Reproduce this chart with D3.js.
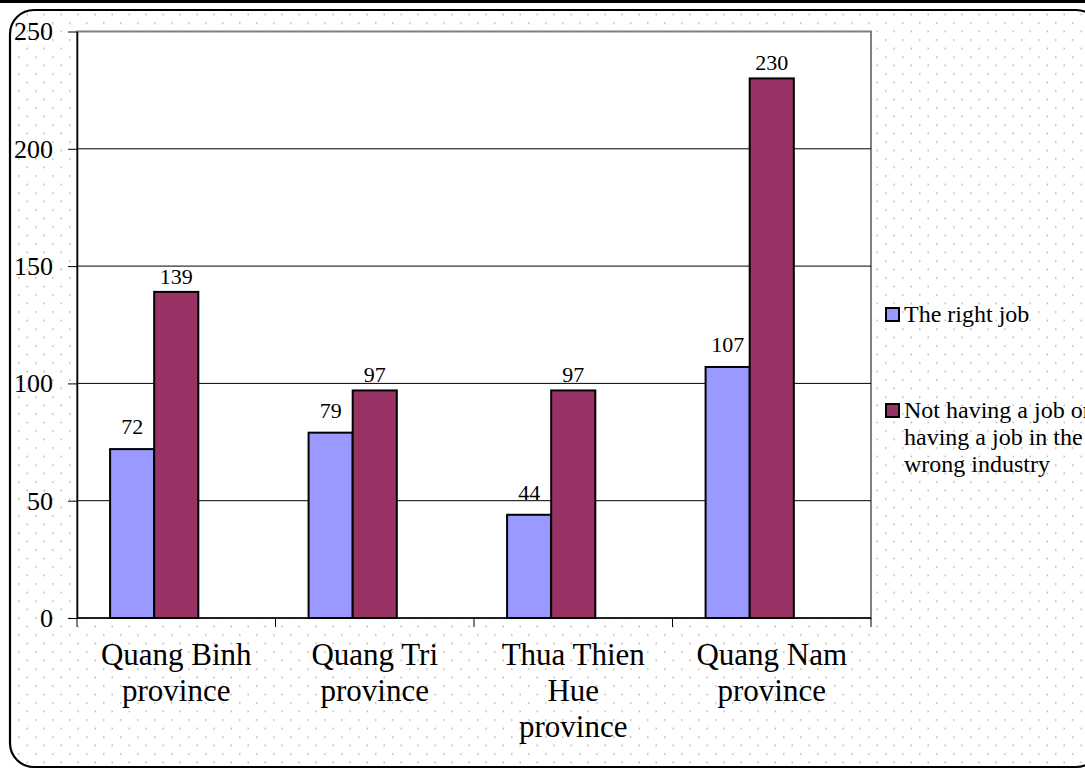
<!DOCTYPE html>
<html>
<head>
<meta charset="utf-8">
<script src="https://cdn.jsdelivr.net/npm/d3@7"></script>
<style>
  html, body { margin: 0; padding: 0; background: #fff; overflow: hidden; }
  svg { display: block; }
</style>
</head>
<body>
<svg id="chart" width="1085" height="769"></svg>
<script>
// Survey results by province
const categories = ["Quang Binh province", "Quang Tri province", "Thua Thien Hue province", "Quang Nam province"];
const seriesNames = ["The right job", "Not having a job or having a job in the wrong industry"];
const rightJob = [72, 79, 44, 107];
const wrongJob = [139, 97, 97, 230];
const yTicks = [0, 50, 100, 150, 200, 250];
const seriesColors = ["#9999FF", "#993366"];

const seriesValues = [rightJob, wrongJob];
const FONT = "'Liberation Serif', 'Times New Roman', serif";

const svg = d3.select("#chart");
const W = 1085, H = 769;

// dotted background fill
const defs = svg.append("defs");
const pat = defs.append("pattern")
  .attr("id", "dots")
  .attr("patternUnits", "userSpaceOnUse")
  .attr("width", 17).attr("height", 17)
  .attr("x", 1).attr("y", 5.3);
pat.append("rect").attr("x", 0).attr("y", 0).attr("width", 1.5).attr("height", 1.5).attr("fill", "#b4b4b4");
pat.append("rect").attr("x", 8.5).attr("y", 8.5).attr("width", 1.5).attr("height", 1.5).attr("fill", "#b4b4b4");

// top rule
svg.append("rect").attr("x", 0).attr("y", 0).attr("width", W).attr("height", 3).attr("fill", "#000");

// chart frame (right edge runs past the page)
svg.append("rect")
  .attr("x", 10).attr("y", 10)
  .attr("width", 1090).attr("height", 757)
  .attr("rx", 24).attr("ry", 24)
  .attr("fill", "url(#dots)")
  .attr("stroke", "#000").attr("stroke-width", 2.2);

// plot area
const plot = { left: 77, right: 871, top: 31.5, bottom: 618 };

const x = d3.scaleBand()
  .domain(categories)
  .range([plot.left, plot.right])
  .paddingInner(0).paddingOuter(0);

// three slots per category (gap width 150%), series occupy the first two
const slot = d3.scaleBand()
  .domain([0, 1, 2])
  .range([0, x.bandwidth()])
  .paddingInner(0).paddingOuter(0.75);

const y = d3.scaleLinear().domain([0, 250]).range([plot.bottom, plot.top]);

svg.append("rect")
  .attr("x", plot.left).attr("y", plot.top)
  .attr("width", plot.right - plot.left).attr("height", plot.bottom - plot.top)
  .attr("fill", "#fff")
  .attr("stroke", "#808080").attr("stroke-width", 2);

// gridlines
svg.append("g").selectAll("line")
  .data(yTicks.filter(d => d > 0 && d < 250))
  .join("line")
  .attr("x1", plot.left).attr("x2", plot.right)
  .attr("y1", d => y(d)).attr("y2", d => y(d))
  .attr("stroke", "#000").attr("stroke-width", 1);

// bars
const barData = [];
categories.forEach((c, ci) => {
  seriesValues.forEach((vals, si) => {
    barData.push({ cat: c, si, value: vals[ci] });
  });
});

svg.append("g").selectAll("rect")
  .data(barData)
  .join("rect")
  .attr("x", d => x(d.cat) + slot(d.si))
  .attr("y", d => y(d.value))
  .attr("width", slot.bandwidth())
  .attr("height", d => y(0) - y(d.value))
  .attr("fill", d => seriesColors[d.si])
  .attr("stroke", "#000").attr("stroke-width", 2);

// value labels
const labelGap = [15, 8];
svg.append("g").selectAll("text")
  .data(barData)
  .join("text")
  .attr("x", d => x(d.cat) + slot(d.si) + slot.bandwidth() / 2)
  .attr("y", d => y(d.value) - labelGap[d.si])
  .attr("text-anchor", "middle")
  .attr("font-family", FONT).attr("font-size", 22)
  .attr("fill", "#000")
  .text(d => d.value);

// y axis
const yAxis = svg.append("g")
  .attr("transform", `translate(${plot.left},0)`)
  .call(d3.axisLeft(y).tickValues(yTicks).tickSize(9).tickSizeOuter(0).tickPadding(15).tickFormat(d3.format("d")));
yAxis.select(".domain").attr("stroke", "#000").attr("stroke-width", 1.5);
yAxis.selectAll(".tick line").attr("stroke", "#000").attr("stroke-width", 1);
yAxis.selectAll(".tick text")
  .attr("font-family", FONT).attr("font-size", 26).attr("fill", "#000");

// x axis
svg.append("line")
  .attr("x1", plot.left).attr("x2", plot.right)
  .attr("y1", plot.bottom).attr("y2", plot.bottom)
  .attr("stroke", "#000").attr("stroke-width", 1.5);

const boundaries = categories.map(c => x(c)).concat([x.range()[1]]);
svg.append("g").selectAll("line")
  .data(boundaries)
  .join("line")
  .attr("x1", d => d).attr("x2", d => d)
  .attr("y1", plot.bottom).attr("y2", plot.bottom + 9)
  .attr("stroke", "#000").attr("stroke-width", 1);

// word wrapping for multi-line labels
function wrapLines(text, maxWidth, fontSize) {
  const probe = svg.append("text")
    .attr("font-family", FONT).attr("font-size", fontSize)
    .attr("visibility", "hidden");
  const words = text.split(" ");
  const lines = [];
  let line = "";
  words.forEach(w => {
    const test = line ? line + " " + w : w;
    probe.text(test);
    if (line && probe.node().getComputedTextLength() > maxWidth) {
      lines.push(line);
      line = w;
    } else {
      line = test;
    }
  });
  if (line) lines.push(line);
  probe.remove();
  return lines;
}

const catLabels = svg.append("g").selectAll("text")
  .data(categories)
  .join("text")
  .attr("text-anchor", "middle")
  .attr("font-family", FONT).attr("font-size", 31)
  .attr("fill", "#000");
catLabels.each(function (d) {
  const cx = x(d) + x.bandwidth() / 2;
  const lines = wrapLines(d, 160, 31);
  d3.select(this).selectAll("tspan")
    .data(lines)
    .join("tspan")
    .attr("x", cx)
    .attr("y", (l, i) => 665 + i * 35.8)
    .text(l => l);
});

// legend
const legendRows = [308, 404];
const legend = svg.append("g");
seriesNames.forEach((name, i) => {
  legend.append("rect")
    .attr("x", 886).attr("y", legendRows[i])
    .attr("width", 13).attr("height", 13)
    .attr("fill", seriesColors[i])
    .attr("stroke", "#000").attr("stroke-width", 2);
  const lines = wrapLines(name, 200, 24);
  legend.append("text")
    .attr("font-family", FONT).attr("font-size", 24).attr("fill", "#000")
    .selectAll("tspan")
    .data(lines)
    .join("tspan")
    .attr("x", 904)
    .attr("y", (l, j) => legendRows[i] + 14 + j * 27)
    .text(l => l);
});
</script>
</body>
</html>
